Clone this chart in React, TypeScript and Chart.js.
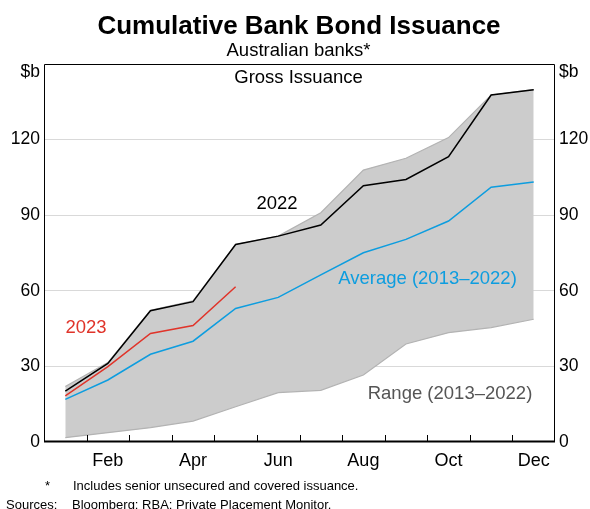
import React, { useEffect, useRef } from "react";
import { Chart, registerables } from "chart.js";

Chart.register(...registerables);

const months = ["Jan", "Feb", "Mar", "Apr", "May", "Jun", "Jul", "Aug", "Sep", "Oct", "Nov", "Dec"];
const rangeLow = [1.7, 3.7, 5.7, 8.3, 14, 19.6, 20.5, 26.6, 38.9, 43.4, 45.4, 48.7];
const rangeHigh = [22, 31.5, 52.3, 56, 78.4, 81.7, 91, 107.9, 112.6, 120.8, 137.7, 139.8];
const average = [16.9, 24.6, 34.8, 40, 53, 57.4, 66.3, 75.1, 80.4, 87.7, 101.1, 103.2];
const y2022 = [20.2, 31.2, 52.1, 55.7, 78.4, 81.7, 86.1, 101.7, 104.2, 113.2, 137.7, 139.8];
const y2023 = [18.3, 29.9, 43.1, 46.2, 61.6];
const yTicks = [0, 30, 60, 90, 120, 150];

const FONT = "'Liberation Sans', Arial, sans-serif";

const overlay = {
  id: "overlay",
  afterDraw(chart: any) {
    const { ctx, chartArea: a } = chart;
    ctx.save();
    // border
    ctx.strokeStyle = "#000";
    ctx.lineWidth = 1;
    ctx.beginPath();
    ctx.moveTo(a.left + 0.5, a.bottom);
    ctx.lineTo(a.left + 0.5, a.top + 0.5);
    ctx.lineTo(a.right - 0.5, a.top + 0.5);
    ctx.lineTo(a.right - 0.5, a.bottom);
    ctx.stroke();
    ctx.lineWidth = 2;
    ctx.beginPath();
    ctx.moveTo(a.left, a.bottom - 0.5);
    ctx.lineTo(a.right, a.bottom - 0.5);
    ctx.stroke();
    // x ticks inside
    ctx.lineWidth = 1;
    const w = (a.right - a.left) / months.length;
    ctx.beginPath();
    for (let i = 1; i < months.length; i++) {
      const x = Math.round(a.left + i * w) + 0.5;
      ctx.moveTo(x, a.bottom);
      ctx.lineTo(x, a.bottom - 7);
    }
    ctx.stroke();

    ctx.fillStyle = "#000";
    ctx.textBaseline = "middle";
    ctx.font = `17.5px ${FONT}`;
    ctx.textAlign = "right";
    ctx.fillText("$b", a.left - 4, 72);
    ctx.textAlign = "left";
    ctx.fillText("$b", a.right + 4, 72);

    ctx.textAlign = "center";
    ctx.font = `bold 26px ${FONT}`;
    ctx.fillText("Cumulative Bank Bond Issuance", 299, 27);
    ctx.font = `18.5px ${FONT}`;
    ctx.fillText("Australian banks*", 298.5, 51);
    ctx.fillText("Gross Issuance", 298.5, 78);

    ctx.fillStyle = "#000";
    ctx.fillText("2022", 277, 204);
    ctx.fillStyle = "#e0342a";
    ctx.fillText("2023", 86, 328);
    ctx.fillStyle = "#0d9ddf";
    ctx.fillText("Average (2013\u20132022)", 427.5, 279);
    ctx.fillStyle = "#555";
    ctx.fillText("Range (2013\u20132022)", 450, 394);

    ctx.fillStyle = "#000";
    ctx.textAlign = "left";
    ctx.font = `13px ${FONT}`;
    ctx.fillText("*", 45, 486);
    ctx.fillText("Includes senior unsecured and covered issuance.", 73, 486);
    ctx.fillText("Sources:", 6, 505);
    ctx.fillText("Bloomberg; RBA; Private Placement Monitor.", 72, 505);
    ctx.restore();
  },
};

export default function App() {
  const ref = useRef<HTMLCanvasElement>(null);
  useEffect(() => {
    const yCommon = {
      type: "linear",
      min: 0,
      max: 150,
      afterBuildTicks: (s: any) => {
        s.ticks = yTicks.map((v) => ({ value: v }));
      },
      ticks: {
        color: "#000",
        font: { family: FONT, size: 17.5 },
        padding: 4,
        callback: (v: any) => (v === 150 ? "" : String(v)),
      },
      border: { display: false },
    };
    const chart = new Chart(ref.current!, {
      type: "line",
      data: {
        labels: months,
        datasets: [
          {
            data: rangeLow,
            borderColor: "#b3b3b3",
            borderWidth: 1.2,
            pointRadius: 0,
            fill: false,
            order: 4,
          },
          {
            data: rangeHigh,
            borderColor: "#b3b3b3",
            borderWidth: 1.2,
            backgroundColor: "#cccccc",
            pointRadius: 0,
            fill: "-1",
            order: 3,
          },
          { data: average, borderColor: "#0d9ddf", borderWidth: 1.5, pointRadius: 0, fill: false, order: 2 },
          { data: y2022, borderColor: "#000", borderWidth: 1.5, pointRadius: 0, fill: false, order: 1 },
          { data: y2023, borderColor: "#e0342a", borderWidth: 1.5, pointRadius: 0, fill: false, order: 0 },
        ],
      },
      options: {
        responsive: false,
        animation: false,
        layout: { padding: { top: 64, left: 0, right: 0, bottom: 0 } },
        plugins: {
          legend: { display: false },
          title: { display: false },
          tooltip: { enabled: false },
          filler: { drawTime: "beforeDatasetsDraw" },
        },
        scales: {
          x: {
            type: "category",
            offset: true,
            grid: { display: false, drawTicks: false },
            border: { display: false },
            afterFit: (s: any) => {
              s.height = 67;
            },
            ticks: {
              color: "#000",
              font: { family: FONT, size: 18 },
              padding: 8,
              autoSkip: false,
              maxRotation: 0,
              callback: (_v: any, i: number) => (i % 2 === 1 ? months[i] : ""),
            },
          },
          y: {
            ...yCommon,
            position: "left",
            afterFit: (s: any) => {
              s.width = 44;
            },
            grid: {
              drawTicks: false,
              color: (c: any) => (c.tick && (c.tick.value === 0 || c.tick.value === 150) ? "rgba(0,0,0,0)" : "#d9d9d9"),
            },
          },
          y2: {
            ...yCommon,
            position: "right",
            afterFit: (s: any) => {
              s.width = 35;
            },
            grid: { display: false, drawTicks: false },
          },
        } as any,
      },
      plugins: [overlay],
    } as any);
    return () => chart.destroy();
  }, []);
  return (
    <div style={{ position: "fixed", left: 0, top: 0, width: 590, height: 509, background: "#fff" }}>
      <canvas ref={ref} width={590} height={509} style={{ width: 590, height: 509 }} />
    </div>
  );
}
